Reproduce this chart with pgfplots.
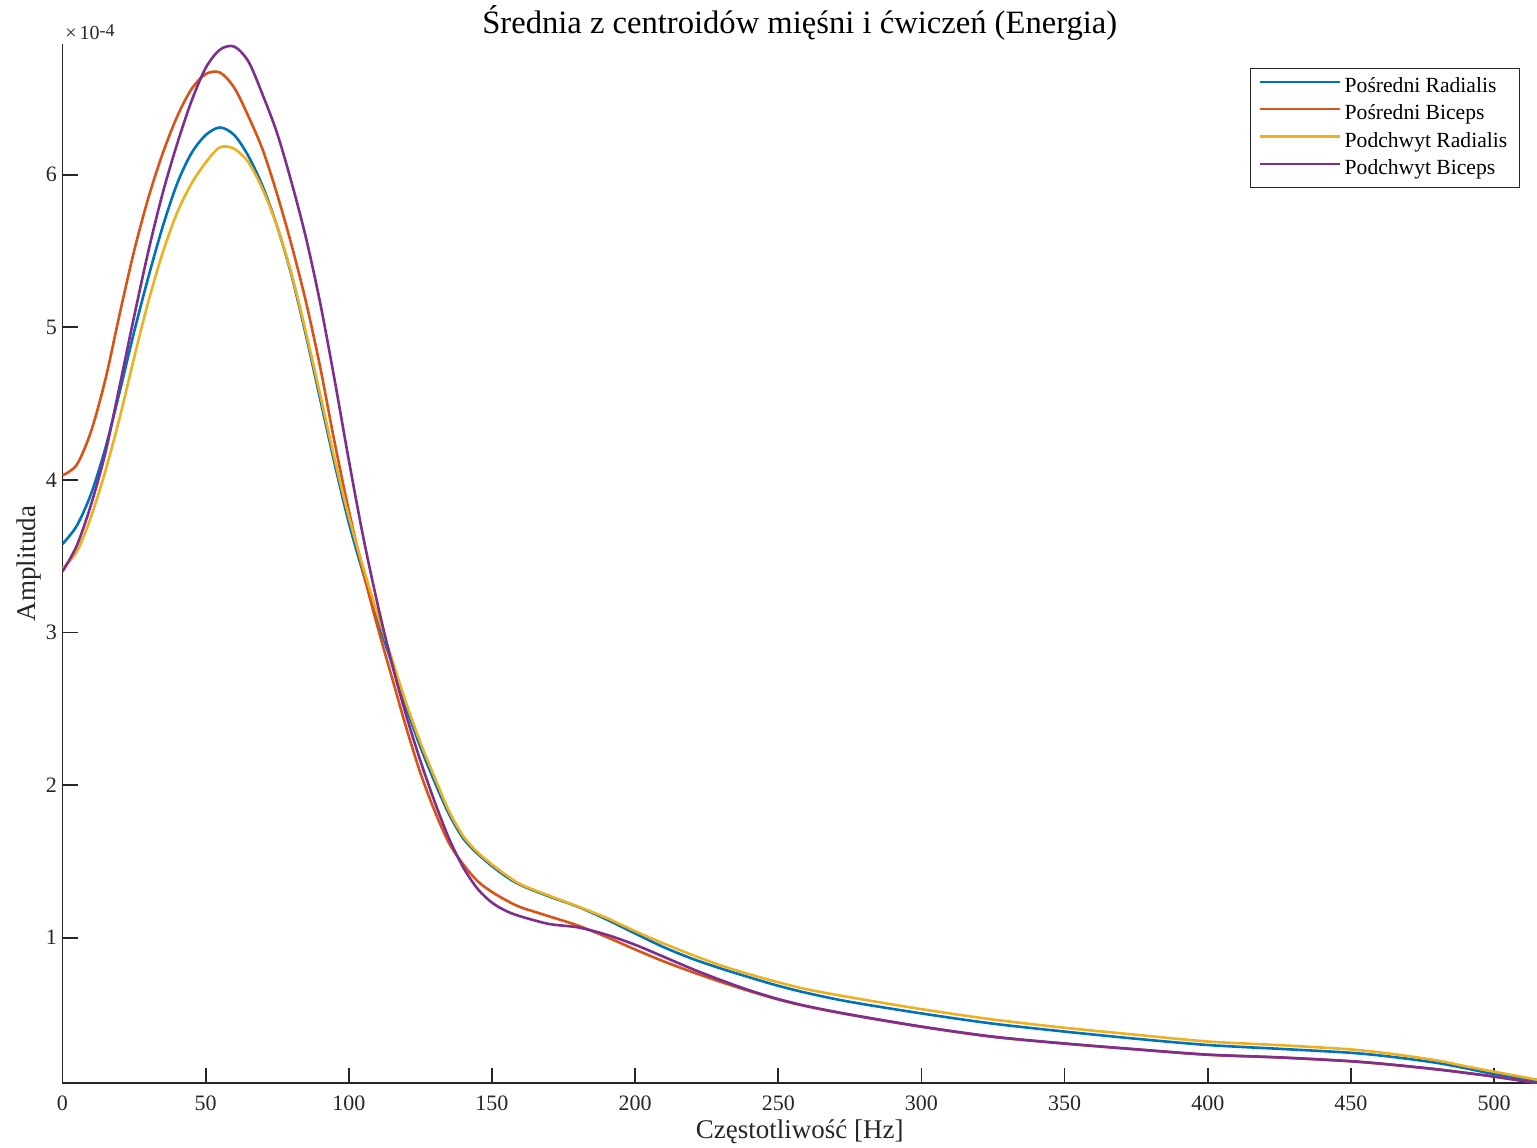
\documentclass[border=0pt]{standalone}
\usepackage{fontspec}
\setmainfont{Liberation Serif}
\usepackage{pgfplots}
\pgfplotsset{compat=1.18}
\definecolor{mblue}{rgb}{0,0.447,0.741}
\definecolor{morange}{rgb}{0.850,0.325,0.098}
\definecolor{myellow}{rgb}{0.929,0.694,0.125}
\definecolor{mpurple}{rgb}{0.494,0.184,0.556}
\definecolor{axgray}{HTML}{262626}

\pgfplotstableread{
x y
0 3.58
5 3.70
10 3.91
15 4.21
20 4.58
25 4.97
30 5.33
35 5.66
40 5.94
45 6.14
50 6.26
55 6.31
60 6.26
65 6.12
70 5.92
75 5.66
80 5.34
85 4.95
90 4.53
95 4.11
100 3.72
105 3.39
110 3.08
115 2.80
120 2.51
125 2.25
130 2.02
135 1.81
140 1.65
145 1.55
150 1.47
155 1.40
160 1.345
170 1.27
180 1.203
190 1.12
200 1.028
210 0.938
220 0.862
230 0.798
240 0.740
250 0.685
260 0.638
275 0.580
300 0.504
325 0.437
350 0.385
375 0.338
400 0.297
425 0.272
450 0.246
465 0.218
480 0.180
490 0.145
500 0.107
515 0.064
}\pr

\pgfplotstableread{
x y
0 4.03
5 4.10
10 4.32
15 4.66
20 5.09
25 5.50
30 5.85
35 6.14
40 6.38
45 6.56
50 6.66
55 6.67
60 6.57
65 6.38
70 6.16
75 5.87
80 5.54
85 5.17
90 4.74
95 4.25
100 3.80
105 3.40
110 3.04
115 2.71
120 2.38
125 2.08
130 1.83
135 1.62
140 1.48
145 1.37
150 1.30
155 1.245
160 1.20
170 1.14
180 1.08
190 1.005
200 0.923
210 0.845
220 0.775
230 0.71
240 0.65
250 0.595
260 0.550
275 0.495
300 0.416
325 0.35
350 0.306
375 0.268
400 0.233
425 0.215
450 0.19
465 0.166
480 0.137
490 0.114
500 0.09
515 0.048
}\pb

\pgfplotstableread{
x y
0 3.42
5 3.53
10 3.76
15 4.06
20 4.41
25 4.80
30 5.17
35 5.49
40 5.75
45 5.94
50 6.08
55 6.18
60 6.17
65 6.08
70 5.90
75 5.66
80 5.35
85 4.97
90 4.56
95 4.14
100 3.76
105 3.43
110 3.12
115 2.83
120 2.54
125 2.28
130 2.05
135 1.83
140 1.665
145 1.56
150 1.48
155 1.41
160 1.35
170 1.275
180 1.205
190 1.13
200 1.043
210 0.962
220 0.887
230 0.818
240 0.760
250 0.708
260 0.662
275 0.610
300 0.532
325 0.464
350 0.41
375 0.364
400 0.32
425 0.296
450 0.268
465 0.237
480 0.196
490 0.158
500 0.122
515 0.07
}\prr

\pgfplotstableread{
x y
0 3.40
5 3.57
10 3.84
15 4.18
20 4.62
25 5.07
30 5.50
35 5.88
40 6.20
45 6.48
50 6.70
55 6.82
60 6.84
65 6.74
70 6.52
75 6.27
80 5.95
85 5.59
90 5.16
95 4.66
100 4.13
105 3.63
110 3.19
115 2.80
120 2.46
125 2.16
130 1.89
135 1.65
140 1.46
145 1.32
150 1.23
155 1.175
160 1.14
170 1.09
180 1.068
190 1.02
200 0.954
210 0.875
220 0.795
230 0.722
240 0.655
250 0.598
260 0.552
275 0.497
300 0.418
325 0.352
350 0.307
375 0.269
400 0.234
425 0.216
450 0.191
465 0.167
480 0.138
490 0.115
500 0.09
515 0.048
}\pbb

\begin{document}
\begin{tikzpicture}
\begin{axis}[
  scale only axis,
  width=737.25pt, height=519.5pt,
  xmin=0, xmax=515, ymin=0.048, ymax=6.857,
  clip mode=individual,
  axis x line*=bottom, axis y line*=left,
  axis line style={-, draw=axgray, line width=0.9pt},
  xtick={0,50,...,500}, ytick={1,2,3,4,5,6},
  tick align=inside, major tick length=7.5pt,
  tick style={draw=axgray, line width=0.9pt},
  /pgf/number format/assume math mode=true,
  ticklabel style={font=\fontsize{11}{13}\selectfont, text=axgray},
  xticklabel style={anchor=base, yshift=-13.85pt, inner sep=0pt},
  yticklabel style={anchor=east, xshift=-2.6pt, inner sep=0pt},
  legend cell align=left,
  legend style={at={(rel axis cs:1,1)}, anchor=north east, xshift=-8.5pt, yshift=-12pt,
    draw=axgray, line width=0.7pt, font=\fontsize{10.8}{12}\selectfont,
    inner xsep=4pt, inner ysep=2.3pt, row sep=0pt,
    nodes={text height=8pt, text depth=2.5pt, inner ysep=1.6pt, inner xsep=2pt}},
  legend image code/.code={\draw[#1, line width=1.1pt] (-2pt,2.7pt) -- (38pt,2.7pt);},
  every axis plot/.append style={line width=1.3pt, smooth},
]
\addplot[mblue] table {\pr};
\addlegendentry{Pośredni Radialis}
\addplot[morange] table {\pb};
\addlegendentry{Pośredni Biceps}
\addplot[myellow] table {\prr};
\addlegendentry{Podchwyt Radialis}
\addplot[mpurple] table {\pbb};
\addlegendentry{Podchwyt Biceps}

\node[anchor=base, font=\fontsize{16.3}{18}\selectfont, inner sep=0pt, yshift=5.5pt] at (rel axis cs:0.5,1) {Średnia z centroidów mięśni i ćwiczeń (Energia)};
\node[anchor=base, font=\fontsize{13.5}{15}\selectfont, text=axgray, inner sep=0pt, yshift=-27.5pt] at (rel axis cs:0.5,0) {Częstotliwość [Hz]};
\node[xshift=-13.5pt, anchor=base, rotate=90, font=\fontsize{13.5}{15}\selectfont, text=axgray, inner sep=0pt] at (rel axis cs:0,0.5) {Amplituda};
\node[anchor=base west, text=axgray, inner sep=0pt, xshift=1.25pt, yshift=2.2pt] at (rel axis cs:0,1) {\fontsize{10}{12}\selectfont ×\kern1.5pt 10\raisebox{1.6pt}{\fontsize{9}{10}\selectfont -4}};
\end{axis}
\pgfresetboundingbox
\path[use as bounding box] (-31.25pt,-32pt) rectangle (737.25pt,541.5pt);
\end{tikzpicture}
\end{document}
